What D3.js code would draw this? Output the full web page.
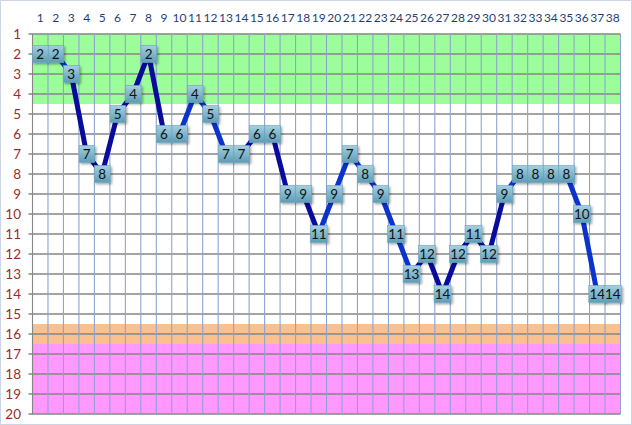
<!DOCTYPE html>
<html>
<head>
<meta charset="utf-8">
<script src="https://cdn.jsdelivr.net/npm/d3@7"></script>
<style>
  body { margin: 0; background: #fff; }
  svg { display: block; }
</style>
</head>
<body>
<div id="chart"></div>
<script>
// rounds 1..38 and the position held at each one
var rounds = d3.range(1, 39);
var positions = [2, 2, 3, 7, 8, 5, 4, 2, 6, 6, 4, 5, 7, 7, 6, 6, 9, 9, 11, 9,
                 7, 8, 9, 11, 13, 12, 14, 12, 11, 12, 9, 8, 8, 8, 8, 10, 14, 14];
var yTicks = d3.range(1, 21);
// coloured zones on the table (top spots, danger, relegation)
var zoneFrom = [1, 15.5, 16.5];
var zoneTo = [4.5, 16.5, 20];

var width = 632, height = 425;
var svg = d3.select('#chart').append('svg')
    .attr('width', width)
    .attr('height', height);

var x = d3.scaleBand().domain(rounds).range([32.5, 620.5]);
var y = d3.scaleLinear().domain([1, 20]).range([34, 414]);

var defs = svg.append('defs');
var grad = defs.append('linearGradient')
    .attr('id', 'boxFill').attr('x1', 0).attr('y1', 0).attr('x2', 0).attr('y2', 1);
grad.append('stop').attr('offset', '0%').attr('stop-color', '#a3d0e0');
grad.append('stop').attr('offset', '100%').attr('stop-color', '#5d9db7');
var shadow = defs.append('filter').attr('id', 'shadow')
    .attr('x', '-30%').attr('y', '-30%').attr('width', '170%').attr('height', '170%');
shadow.append('feDropShadow')
    .attr('dx', 1.5).attr('dy', 1.5).attr('stdDeviation', 1.2)
    .attr('flood-color', '#000').attr('flood-opacity', 0.35);

// outer border
svg.append('rect')
    .attr('x', 0.5).attr('y', 0.5)
    .attr('width', width - 1).attr('height', height - 1)
    .attr('fill', 'none').attr('stroke', '#cdd5e4');

// zones
var zoneColors = ['#9cfe9a', '#fac08f', '#ff99ff'];
svg.selectAll('rect.zone')
    .data(zoneFrom).enter()
    .append('rect')
    .attr('class', 'zone')
    .attr('x', x.range()[0])
    .attr('width', x.range()[1] - x.range()[0])
    .attr('y', function(d){ return y(d); })
    .attr('height', function(d, i){ return y(zoneTo[i]) - y(d); })
    .attr('fill', function(d, i){ return zoneColors[i]; });

// horizontal grid
svg.selectAll('line.hgrid')
    .data(yTicks).enter()
    .append('line')
    .attr('class', 'hgrid')
    .attr('x1', x.range()[0] - 4)
    .attr('x2', x.range()[1])
    .attr('y1', function(d){ return y(d); })
    .attr('y2', function(d){ return y(d); })
    .attr('stroke', '#868686')
    .attr('stroke-width', 1.3);

// vertical grid
var edges = rounds.map(function(r){ return x(r); }).concat([x.range()[1]]);
svg.selectAll('line.vgrid')
    .data(edges).enter()
    .append('line')
    .attr('class', 'vgrid')
    .attr('x1', function(d){ return d; })
    .attr('x2', function(d){ return d; })
    .attr('y1', y(1))
    .attr('y2', y(20))
    .attr('stroke', function(d, i){ return i === 0 ? '#868686' : '#8fa3cf'; })
    .attr('stroke-width', 1.1);

// axis labels
svg.selectAll('text.xlab')
    .data(rounds).enter()
    .append('text')
    .attr('class', 'xlab')
    .attr('x', function(d){ return x(d) + x.bandwidth() / 2; })
    .attr('y', 22)
    .attr('text-anchor', 'middle')
    .attr('font-family', 'Lato, sans-serif')
    .attr('font-size', 12)
    .attr('fill', '#1f3f7c')
    .text(function(d){ return d; });

svg.selectAll('text.ylab')
    .data(yTicks).enter()
    .append('text')
    .attr('class', 'ylab')
    .attr('x', 21)
    .attr('y', function(d){ return y(d); })
    .attr('dy', '0.35em')
    .attr('text-anchor', 'end')
    .attr('font-family', 'Lato, sans-serif')
    .attr('font-size', 13.5)
    .attr('fill', '#a12b2b')
    .text(function(d){ return d; });

// line segments, darker where the run is drawn darker in the original
var darkRuns = [[3, 9], [14, 19], [25, 31]];
var isDark = function(i){
    var r = i + 1;
    for (var k = 0; k < darkRuns.length; k++){
        if (r >= darkRuns[k][0] && r < darkRuns[k][1]) return true;
    }
    return false;
};
var pts = rounds.map(function(r, i){ return [x(r) + x.bandwidth() / 2, y(positions[i])]; });
var segs = d3.pairs(pts);
svg.selectAll('line.seg')
    .data(segs).enter()
    .append('line')
    .attr('class', 'seg')
    .attr('x1', function(d){ return d[0][0]; })
    .attr('y1', function(d){ return d[0][1]; })
    .attr('x2', function(d){ return d[1][0]; })
    .attr('y2', function(d){ return d[1][1]; })
    .attr('stroke', function(d, i){ return isDark(i) ? '#0a0a9c' : '#0b33cc'; })
    .attr('stroke-width', 5);

// data label boxes
var labels = svg.selectAll('g.lab')
    .data(positions).enter()
    .append('g')
    .attr('class', 'lab')
    .attr('transform', function(d, i){ return 'translate(' + pts[i][0] + ',' + pts[i][1] + ')'; });

labels.append('rect')
    .attr('x', function(d){ return d >= 10 ? -8.5 : -7.5; })
    .attr('y', -8.5)
    .attr('width', function(d){ return d >= 10 ? 17 : 15.5; })
    .attr('height', 17)
    .attr('fill', 'url(#boxFill)')
    .attr('stroke', '#6da6bd')
    .attr('stroke-width', 0.6)
    .attr('filter', 'url(#shadow)');

labels.append('text')
    .attr('text-anchor', 'middle')
    .attr('dy', '0.36em')
    .attr('font-family', 'Lato, sans-serif')
    .attr('font-size', 13.5)
    .attr('fill', '#111')
    .text(function(d){ return d; });
</script>
</body>
</html>
